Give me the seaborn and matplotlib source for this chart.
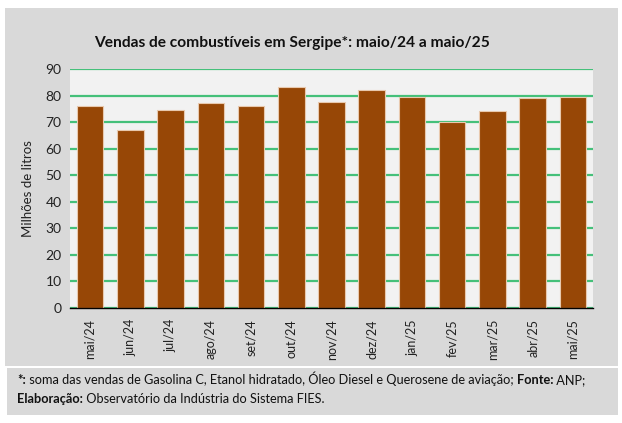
import matplotlib
matplotlib.use("Agg")
import matplotlib.pyplot as plt
import seaborn as sns
import pandas as pd
from matplotlib.patches import Rectangle

meses = ["mai/24", "jun/24", "jul/24", "ago/24", "set/24", "out/24", "nov/24",
         "dez/24", "jan/25", "fev/25", "mar/25", "abr/25", "mai/25"]
vendas = [76.2, 67.0, 74.5, 77.1, 76.0, 83.1, 77.7, 82.0, 79.5, 70.0, 74.3, 79.0, 79.5]
yticks = [0, 10, 20, 30, 40, 50, 60, 70, 80, 90]

sns.set_theme(style="white")
plt.rcParams['font.family'] = ['Lato', 'DejaVu Sans']

df = pd.DataFrame({"mes": meses, "vendas": vendas})

W, H = 622, 423
fig = plt.figure(figsize=(W / 100, H / 100), dpi=100)
fig.patch.set_facecolor("white")

gray = "#D9D9D9"
fig.add_artist(Rectangle((5 / W, 1 - 366 / H), (618 - 5) / W, (366 - 8) / H,
                         transform=fig.transFigure, facecolor=gray, edgecolor="none", zorder=0))
fig.add_artist(Rectangle((7 / W, 1 - 415 / H), (618 - 7) / W, (415 - 368) / H,
                         transform=fig.transFigure, facecolor=gray, edgecolor="none", zorder=0))

ax = fig.add_axes([70 / W, 1 - 308 / H, (593 - 70) / W, (308 - 69) / H])
ax.set_facecolor("#F2F2F2")

sns.barplot(data=df, x="mes", y="vendas", color="#974706", width=0.66,
            edgecolor="#E8C9AE", linewidth=0.8, saturation=1, ax=ax, zorder=3)

ax.set_ylim(0, 90)
ax.set_xlim(-0.5, len(meses) - 0.5)
ax.set_yticks(yticks)
ax.set_yticklabels([str(v) for v in yticks], fontsize=10, color="#222222")
ax.yaxis.grid(True, color="#45C07A", linewidth=1.6, zorder=1)
ax.set_axisbelow(True)
ax.tick_params(axis="y", length=0, pad=6)

ax.set_xticks([i for i in range(len(meses))])
ax.set_xticklabels(meses, rotation=90, fontsize=9, color="#222222")
ax.tick_params(axis="x", which="major", length=0, pad=8)
ax.set_xticks([i - 0.5 for i in range(len(meses) + 1)], minor=True)
ax.tick_params(axis="x", which="minor", length=5, width=1, color="black", direction="inout")

for s in ["top", "right", "left"]:
    ax.spines[s].set_visible(False)
ax.spines["bottom"].set_color("black")
ax.spines["bottom"].set_linewidth(1)
ax.spines["bottom"].set_zorder(5)

ax.set_xlabel("")
ax.set_ylabel("Milhões de litros", fontsize=9.5, color="#222222", labelpad=8)

fig.text(292 / W, 1 - 43 / H, "Vendas de combustíveis em Sergipe*: maio/24 a maio/25",
         ha="center", va="center", fontsize=11.2, fontweight="bold", color="#111111")

# footnote with mixed weights, placed piece by piece on a shared baseline
fs = 9.2
renderer = fig.canvas.get_renderer()


def run_line(pieces, x0, ybase):
    x = x0
    for txt, bold in pieces:
        t = fig.text(x / W, 1 - ybase / H, txt, fontsize=fs, color="#111111",
                     fontweight="bold" if bold else "normal", va="baseline", ha="left")
        bb = t.get_window_extent(renderer=renderer)
        x = bb.x1 * W / fig.bbox.width


run_line([("*:", True),
          (" soma das vendas de Gasolina C, Etanol hidratado, Óleo Diesel e Querosene de aviação; ", False),
          ("Fonte:", True), (" ANP;", False)], 17, 384)
run_line([("Elaboração:", True), (" Observatório da Indústria do Sistema FIES.", False)], 17, 403)

fig.savefig("out.png", dpi=100, facecolor=fig.get_facecolor())
